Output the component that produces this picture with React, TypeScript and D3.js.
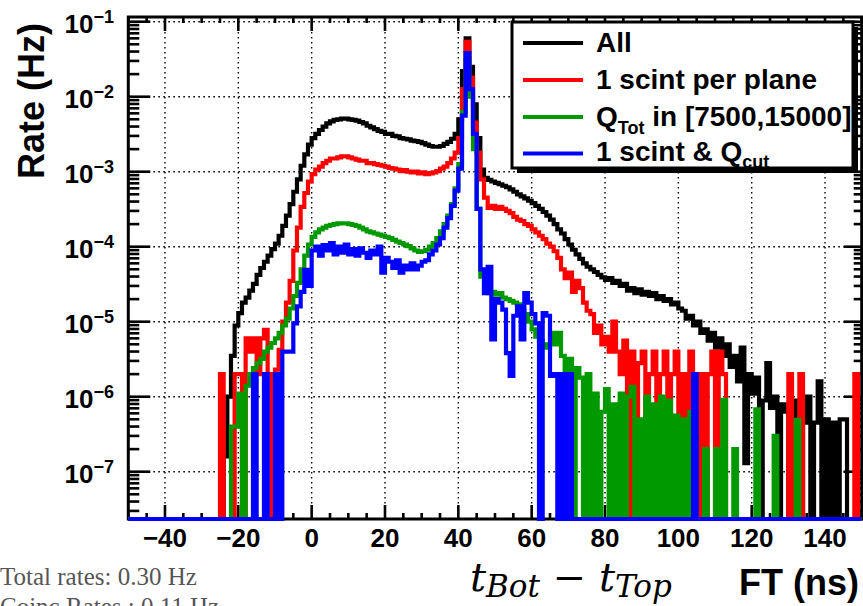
import React from "react";
import * as d3 from "d3";

// Histogram binning (ns)
const BIN_START = -26;
const BIN_WIDTH = 1;
const X_MIN = -50;
const X_MAX = 150;

// Rates in Hz, one value per 1-ns bin starting at BIN_START
const RATE_ALL = [
  0, 0, 1.6e-7, 1.0e-6, 3.5e-6, 8.9e-6, 1.3e-5, 1.8e-5, 2.1e-5, 2.6e-5,
  3.2e-5, 4.2e-5, 5.2e-5, 6.3e-5, 7.6e-5, 9.3e-5, 1.1e-4, 1.4e-4, 1.9e-4, 2.6e-4,
  3.7e-4, 5.4e-4, 7.9e-4, 1.2e-3, 1.7e-3, 2.3e-3, 2.8e-3, 3.2e-3, 3.6e-3, 4.0e-3,
  4.4e-3, 4.7e-3, 4.9e-3, 5.0e-3, 5.1e-3, 5.1e-3, 5.0e-3, 4.9e-3, 4.8e-3, 4.6e-3,
  4.4e-3, 4.1e-3, 3.9e-3, 3.7e-3, 3.5e-3, 3.4e-3, 3.2e-3, 3.2e-3, 3.0e-3, 2.95e-3,
  2.8e-3, 2.75e-3, 2.7e-3, 2.6e-3, 2.55e-3, 2.5e-3, 2.4e-3, 2.3e-3, 2.2e-3, 2.15e-3,
  2.15e-3, 2.2e-3, 2.35e-3, 2.5e-3, 2.75e-3, 3.2e-3, 5.0e-3, 2.2e-2, 6.0e-2, 2.5e-2,
  7.9e-3, 2.8e-3, 1.07e-3, 8.3e-4, 7.8e-4, 7.4e-4, 7.1e-4, 6.8e-4, 6.5e-4, 6.2e-4,
  5.8e-4, 5.4e-4, 5.0e-4, 4.7e-4, 4.4e-4, 4.1e-4, 3.8e-4, 3.5e-4, 3.2e-4, 2.9e-4,
  2.6e-4, 2.3e-4, 2.0e-4, 1.7e-4, 1.5e-4, 1.26e-4, 1.07e-4, 9.1e-5, 7.9e-5, 6.9e-5,
  6.0e-5, 5.4e-5, 5.0e-5, 4.6e-5, 4.2e-5, 3.9e-5, 3.6e-5, 3.8e-5, 3.3e-5, 3.5e-5,
  3.0e-5, 3.2e-5, 2.6e-5, 2.8e-5, 2.4e-5, 2.7e-5, 2.3e-5, 2.5e-5, 2.2e-5, 2.4e-5,
  2.0e-5, 2.2e-5, 1.9e-5, 2.0e-5, 1.7e-5, 1.8e-5, 1.5e-5, 1.4e-5, 1.1e-5, 1.2e-5,
  8.9e-6, 1.0e-5, 7.1e-6, 7.9e-6, 5.6e-6, 7.1e-6, 4.5e-6, 6.0e-6, 3.5e-6, 5.0e-6,
  2.5e-6, 3.5e-6, 1.6e-6, 4.5e-6, 1.3e-7, 2.0e-6, 1.1e-6, 1.8e-6, 0, 8.9e-7,
  2.8e-6, 7.1e-7, 1.0e-6, 0, 7.9e-7, 6.3e-7, 0, 5.0e-7, 8.9e-7, 0,
  4.5e-7, 1.0e-6, 0, 4.5e-7, 1.6e-6, 0, 5.0e-7, 0, 4.5e-7, 0,
  5.0e-7, 5.0e-7, 0, 0, 0, 0,
];

const RATE_ONE_SCINT = [
  0, 2.0e-6, 0, 0, 0, 2.0e-6, 2.0e-6, 0, 6.0e-6, 4.0e-6,
  6.0e-6, 2.0e-6, 6.0e-6, 7.8e-6, 2.0e-6, 0, 2.3e-6, 4.2e-6, 1.0e-5, 1.8e-5,
  3.5e-5, 8.9e-5, 1.8e-4, 3.4e-4, 5.2e-4, 7.4e-4, 9.3e-4, 1.07e-3, 1.17e-3, 1.3e-3,
  1.4e-3, 1.5e-3, 1.5e-3, 1.55e-3, 1.6e-3, 1.6e-3, 1.55e-3, 1.5e-3, 1.45e-3, 1.4e-3,
  1.4e-3, 1.3e-3, 1.3e-3, 1.26e-3, 1.23e-3, 1.2e-3, 1.17e-3, 1.12e-3, 1.1e-3, 1.07e-3,
  1.02e-3, 1.05e-3, 1.0e-3, 9.8e-4, 1.0e-3, 9.5e-4, 9.8e-4, 9.3e-4, 9.5e-4, 9.8e-4,
  1.02e-3, 1.1e-3, 1.17e-3, 1.3e-3, 1.5e-3, 1.8e-3, 2.8e-3, 1.26e-2, 5.4e-2, 1.8e-2,
  4.5e-3, 1.8e-3, 7.9e-4, 4.5e-4, 3.3e-4, 3.5e-4, 3.2e-4, 3.4e-4, 3.2e-4, 3.0e-4,
  2.8e-4, 2.5e-4, 2.3e-4, 2.2e-4, 2.0e-4, 1.9e-4, 1.7e-4, 1.55e-4, 1.4e-4, 1.26e-4,
  1.1e-4, 1.0e-4, 8.7e-5, 7.1e-5, 5.0e-5, 3.8e-5, 4.5e-5, 2.5e-5, 3.5e-5, 2.8e-5,
  1.8e-5, 1.4e-5, 1.26e-5, 7.1e-6, 8.9e-6, 5.0e-6, 6.3e-6, 4.0e-6, 1.0e-5, 4.0e-6,
  2.0e-6, 5.6e-6, 0, 4.0e-6, 0, 2.8e-6, 4.0e-6, 0, 2.0e-6, 4.0e-6,
  0, 2.0e-6, 4.0e-6, 0, 2.0e-6, 4.0e-6, 0, 2.0e-6, 0, 4.0e-6,
  2.0e-6, 0, 2.0e-6, 0, 2.0e-6, 4.0e-6, 0, 4.0e-6, 2.0e-6, 0,
  0, 0, 0, 0, 0, 0, 0, 0, 0, 0,
  0, 0, 0, 0, 0, 0, 2.0e-6, 0, 0, 2.0e-6,
  0, 0, 0, 0, 0, 0, 0, 0, 0, 0,
  0, 0, 0, 0, 2.0e-6, 0,
];

const RATE_QTOT = [
  0, 0, 0, 0, 4.0e-7, 4.0e-7, 1.1e-6, 0, 1.4e-6, 2.0e-6,
  2.4e-6, 2.8e-6, 3.2e-6, 4.0e-6, 4.5e-6, 5.2e-6, 6.0e-6, 7.1e-6, 8.9e-6, 1.1e-5,
  1.5e-5, 2.2e-5, 3.3e-5, 5.0e-5, 7.6e-5, 1.07e-4, 1.35e-4, 1.55e-4, 1.7e-4, 1.8e-4,
  1.9e-4, 1.95e-4, 2.0e-4, 2.05e-4, 2.05e-4, 2.05e-4, 2.0e-4, 1.95e-4, 1.9e-4, 1.8e-4,
  1.7e-4, 1.6e-4, 1.55e-4, 1.5e-4, 1.45e-4, 1.4e-4, 1.35e-4, 1.3e-4, 1.23e-4, 1.17e-4,
  1.12e-4, 1.07e-4, 1.02e-4, 9.5e-5, 8.9e-5, 8.5e-5, 8.7e-5, 9.1e-5, 1.0e-4, 1.12e-4,
  1.3e-4, 1.6e-4, 2.0e-4, 2.6e-4, 3.7e-4, 6.0e-4, 1.26e-3, 6.3e-3, 3.2e-2, 1.0e-2,
  2.0e-3, 3.2e-4, 4.0e-5, 2.5e-5, 2.4e-5, 2.5e-5, 2.3e-5, 2.4e-5, 2.1e-5, 2.0e-5,
  1.9e-5, 1.8e-5, 1.7e-5, 1.4e-5, 1.26e-5, 1.0e-5, 7.9e-6, 6.3e-6, 5.6e-6, 5.0e-6,
  4.5e-6, 7.1e-6, 5.0e-6, 7.1e-6, 3.5e-6, 0, 3.2e-6, 0, 2.4e-6, 1.8e-6,
  0, 2.0e-6, 0, 1.1e-6, 0, 6.3e-7, 1.26e-6, 0, 7.9e-7, 0,
  1.1e-6, 0, 1.0e-6, 1.35e-6, 0, 5.0e-7, 0, 1.0e-6, 0, 7.9e-7,
  0, 1.0e-6, 0, 8.9e-7, 0, 5.6e-7, 0, 5.0e-7, 0, 6.3e-7,
  3.2e-7, 0, 0, 2.0e-7, 0, 0, 2.0e-7, 0, 9.1e-7, 0,
  0, 2.0e-7, 0, 0, 0, 0, 0, 6.8e-7, 0, 0,
  0, 0, 3.0e-7, 0, 0, 0, 0, 0, 4.9e-7, 0,
  0, 0, 0, 0, 0, 0, 0, 0, 0, 0,
  0, 0, 0, 0, 0, 0,
];

const RATE_ONE_SCINT_QCUT = [
  0, 0, 0, 0, 0, 0, 0, 0, 0, 0,
  2.0e-6, 0, 0, 2.0e-6, 0, 0, 2.0e-6, 0, 4.0e-6, 4.0e-6,
  4.0e-6, 9.5e-6, 1.6e-5, 2.5e-5, 4.9e-5, 3.0e-5, 8.9e-5, 1.0e-4, 7.6e-5, 1.05e-4,
  8.9e-5, 1.12e-4, 7.9e-5, 1.0e-4, 8.3e-5, 1.07e-4, 7.9e-5, 9.3e-5, 7.6e-5, 9.5e-5,
  8.3e-5, 7.1e-5, 8.9e-5, 7.9e-5, 1.0e-4, 4.5e-5, 7.1e-5, 6.3e-5, 5.2e-5, 6.6e-5,
  4.5e-5, 5.6e-5, 5.0e-5, 6.0e-5, 5.0e-5, 5.6e-5, 6.3e-5, 6.6e-5, 7.9e-5, 8.9e-5,
  1.07e-4, 1.3e-4, 1.8e-4, 2.4e-4, 3.5e-4, 5.6e-4, 1.1e-3, 5.6e-3, 3.8e-2, 1.26e-2,
  3.2e-3, 3.2e-4, 5.0e-5, 2.4e-5, 5.4e-5, 5.8e-6, 2.0e-5, 1.8e-5, 1.45e-5, 3.8e-6,
  1.9e-6, 1.2e-5, 1.6e-5, 5.8e-6, 2.4e-5, 1.8e-5, 1.26e-5, 9.5e-6, 0, 1.3e-5,
  1.2e-5, 1.9e-6, 2.0e-6, 0, 2.0e-6, 0, 2.0e-6, 0, 0, 0,
  0, 0, 0, 0, 0, 0, 0, 0, 0, 0,
  0, 0, 0, 0, 0, 0, 0, 0, 0, 0,
  0, 0, 0, 0, 0, 0, 0, 0, 0, 0,
  2.0e-6, 0, 0, 0, 0, 0, 0, 0, 0, 0,
  0, 0, 0, 0, 0, 0, 0, 0, 0, 0,
  0, 0, 0, 0, 0, 0, 0, 0, 0, 0,
  0, 0, 0, 0, 0, 0, 0, 0, 0, 0,
  0, 0, 0, 0, 0, 0,
];

const SERIES_COLORS = ["#000000", "#ff0000", "#009900", "#0000ff"];
const X_TICKS = [-40, -20, 0, 20, 40, 60, 80, 100, 120, 140];
const X_MINOR_STEP = 5;
const Y_EXPONENTS = [-7, -6, -5, -4, -3, -2, -1];
const STATS_LINES = ["Total rates: 0.30 Hz", "Coinc Rates : 0.11 Hz"];

const FONT = "'Liberation Sans', Arial, Helvetica, sans-serif";

export default function App() {
  const W = 863;
  const H = 606;
  const left = 128.3;
  const right = 861.7;
  const top = 17;
  const bottom = 519;

  const x = d3.scaleLinear().domain([X_MIN, X_MAX]).range([left, right]);
  const y = d3.scaleLog().domain([1e-7, 1e-1]).range([471.7, 21.7]);
  const yv = (v: number) => (v > 0 ? y(v) : bottom);

  const line = d3
    .line<[number, number]>()
    .x((d) => x(d[0]))
    .y((d) => yv(d[1]))
    .curve(d3.curveStepAfter);

  const pts = (arr: number[]): [number, number][] => {
    const p: [number, number][] = [[X_MIN, 0]];
    arr.forEach((v, i) => p.push([BIN_START + i * BIN_WIDTH, v]));
    p.push([BIN_START + arr.length * BIN_WIDTH, arr[arr.length - 1]]);
    return p;
  };

  const series = [RATE_ALL, RATE_ONE_SCINT, RATE_QTOT, RATE_ONE_SCINT_QCUT];

  const xMinor: number[] = d3.range(X_MIN, X_MAX + 0.1, X_MINOR_STEP).filter((t) => !X_TICKS.includes(t));
  const yMinor: number[] = [];
  for (let e = -8; e <= -1; e++) {
    for (let k = 2; k <= 9; k++) {
      const v = k * Math.pow(10, e);
      const py = y(v);
      if (py > top && py < bottom) yMinor.push(v);
    }
  }

  const tickStroke = 2.6;

  return (
    <svg
      width={W}
      height={H}
      style={{ position: "absolute", left: 0, top: 0, background: "#fff" }}
      fontFamily={FONT}
    >
      <defs>
        <clipPath id="plotclip">
          <rect x={left} y={top} width={right - left} height={bottom - top + 3} />
        </clipPath>
      </defs>

      {/* grid */}
      <g stroke="#000" strokeWidth={1.4} strokeDasharray="1.6,3.4">
        {X_TICKS.map((t) => (
          <line key={"gx" + t} x1={x(t)} x2={x(t)} y1={top} y2={bottom} />
        ))}
        {Y_EXPONENTS.map((e) => (
          <line key={"gy" + e} x1={left} x2={right} y1={y(Math.pow(10, e))} y2={y(Math.pow(10, e))} />
        ))}
      </g>

      {/* frame */}
      <rect x={left} y={top} width={right - left} height={bottom - top} fill="none" stroke="#000" strokeWidth={3} />

      {/* ticks */}
      <g stroke="#000" strokeWidth={tickStroke}>
        {X_TICKS.map((t) => (
          <g key={"xt" + t}>
            <line x1={x(t)} x2={x(t)} y1={bottom} y2={bottom - 14} />
            <line x1={x(t)} x2={x(t)} y1={top} y2={top + 14} />
          </g>
        ))}
        {xMinor.map((t) => (
          <g key={"xm" + t}>
            <line x1={x(t)} x2={x(t)} y1={bottom} y2={bottom - 6} />
            <line x1={x(t)} x2={x(t)} y1={top} y2={top + 6} />
          </g>
        ))}
        {Y_EXPONENTS.map((e) => (
          <g key={"yt" + e}>
            <line x1={left} x2={left + 22} y1={y(Math.pow(10, e))} y2={y(Math.pow(10, e))} />
            <line x1={right} x2={right - 18} y1={y(Math.pow(10, e))} y2={y(Math.pow(10, e))} />
          </g>
        ))}
        {yMinor.map((v, i) => (
          <g key={"ym" + i}>
            <line x1={left} x2={left + 11} y1={y(v)} y2={y(v)} />
            <line x1={right} x2={right - 8} y1={y(v)} y2={y(v)} />
          </g>
        ))}
      </g>

      {/* histograms */}
      <g clipPath="url(#plotclip)" fill="none" strokeWidth={4.2} strokeLinejoin="miter">
        {series.map((arr, i) => (
          <path key={"s" + i} d={line(pts(arr)) || ""} stroke={SERIES_COLORS[i]} />
        ))}
      </g>

      {/* x tick labels */}
      <g fontWeight="bold" fontSize={26} textAnchor="middle">
        {X_TICKS.map((t) => (
          <text key={"xl" + t} x={x(t)} y={547}>
            {d3.format("d")(t)}
          </text>
        ))}
      </g>

      {/* y tick labels */}
      <g fontWeight="bold" textAnchor="end">
        {Y_EXPONENTS.map((e) => {
          const py = y(Math.pow(10, e));
          return (
            <text key={"yl" + e} x={114} y={py + 11.5} fontSize={26}>
              10
              <tspan dy={-10.5} fontSize={18}>
                {"\u2212" + Math.abs(e)}
              </tspan>
            </text>
          );
        })}
      </g>

      {/* y axis title */}
      <text transform={`translate(44,101) rotate(-90)`} textAnchor="middle" fontWeight="bold" fontSize={36}>
        Rate (Hz)
      </text>

      {/* x axis title */}
      <text x={859} y={595} textAnchor="end" fontWeight="bold" fontSize={36}>
        FT (ns)
      </text>
      <text x={470} y={591} fontFamily="'DejaVu Serif', serif" fontStyle="italic" fontSize={40}>
        <tspan>t</tspan>
        <tspan dy={6} fontSize={31}>Bot</tspan>
        <tspan dy={-6} fontStyle="normal">{" \u2212 "}</tspan>
        <tspan>t</tspan>
        <tspan dy={6} fontSize={31}>Top</tspan>
      </text>

      {/* stats text */}
      <g fontFamily="'Liberation Serif', 'Times New Roman', serif" fontSize={25} fill="#555">
        <text x={0} y={585}>{STATS_LINES[0]}</text>
        <text x={0} y={615}>{STATS_LINES[1]}</text>
      </g>

      {/* legend */}
      <g>
        <rect x={517} y={27} width={341} height={146} fill="#000" />
        <rect x={512} y={22} width={341} height={146} fill="#fff" stroke="#000" strokeWidth={3} />
        {[43, 80, 117, 153.5].map((ly, i) => (
          <line key={"ll" + i} x1={523} x2={583} y1={ly} y2={ly} stroke={SERIES_COLORS[i]} strokeWidth={4} />
        ))}
        <g fontWeight="bold" fontSize={28}>
          <text x={596} y={52}>All</text>
          <text x={596} y={89}>1 scint per plane</text>
          <text x={596} y={125.5}>
            Q<tspan dy={8} fontSize={18}>Tot</tspan>
            <tspan dy={-8}>{" in [7500,15000]"}</tspan>
          </text>
          <text x={596} y={161}>
            1 scint &amp; Q<tspan dy={7} fontSize={18}>cut</tspan>
          </text>
        </g>
      </g>
    </svg>
  );
}
